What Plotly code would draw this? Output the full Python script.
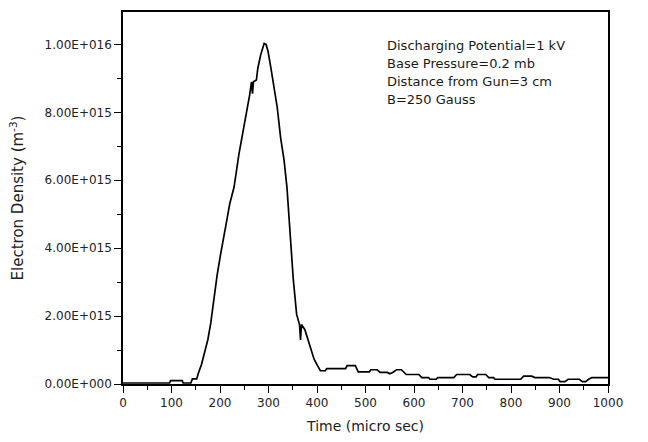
import plotly.graph_objects as go

# Time (micro sec)
time_us = [0, 20, 40, 60, 80, 96, 98, 122, 124, 140, 143, 152, 155, 162, 168, 175, 181, 188, 194,
           201, 207, 214, 220, 229, 239, 248, 255, 261, 265, 267, 269, 275, 278, 284, 291, 295,
           299, 305, 312, 318, 325, 332, 338, 345, 351, 358, 364, 366, 368, 375, 381, 388, 394,
           401, 407, 417, 420, 459, 462, 479, 485, 508, 511, 524, 530, 545, 550, 556, 564, 574,
           584, 610, 616, 630, 633, 646, 649, 682, 688, 715, 721, 728, 731, 748, 754, 764, 767,
           820, 826, 843, 849, 879, 888, 898, 901, 911, 918, 941, 947, 954, 960, 967, 1000]
# Electron density in units of 1e15 m^-3
density_e15 = [0.03, 0.03, 0.03, 0.03, 0.03, 0.03, 0.1, 0.1, 0.03, 0.03, 0.15, 0.15, 0.3, 0.58,
               0.92, 1.31, 1.8, 2.58, 3.2, 3.8, 4.33, 4.82, 5.3, 5.8, 6.77, 7.55, 8.03, 8.5, 8.9,
               8.55, 8.9, 8.95, 9.3, 9.7, 10.03, 10.0, 9.8, 9.3, 8.7, 8.15, 7.25, 6.6, 5.8, 4.2,
               3.1, 2.05, 1.75, 1.3, 1.75, 1.6, 1.3, 1.0, 0.73, 0.54, 0.39, 0.39, 0.45, 0.45,
               0.54, 0.54, 0.36, 0.36, 0.42, 0.42, 0.34, 0.34, 0.3, 0.34, 0.42, 0.42, 0.28, 0.28,
               0.19, 0.19, 0.14, 0.14, 0.19, 0.19, 0.28, 0.28, 0.21, 0.21, 0.28, 0.28, 0.19, 0.19,
               0.14, 0.14, 0.23, 0.23, 0.19, 0.19, 0.14, 0.14, 0.07, 0.07, 0.14, 0.14, 0.07, 0.07,
               0.14, 0.19, 0.19]
density = [v * 1e15 for v in density_e15]

y_tick_vals = [0, 2e15, 4e15, 6e15, 8e15, 1e16]
y_tick_text = ["0.00E+000", "2.00E+015", "4.00E+015", "6.00E+015", "8.00E+015", "1.00E+016"]
x_tick_vals = [0, 100, 200, 300, 400, 500, 600, 700, 800, 900, 1000]

info_lines = ["Discharging Potential=1 kV", "Base Pressure=0.2 mb",
              "Distance from Gun=3 cm", "B=250 Gauss"]

FONT = "DejaVu Sans"

fig = go.Figure()
fig.add_trace(go.Scatter(x=time_us, y=density, mode="lines",
                         line=dict(color="black", width=1.7), showlegend=False))

for i, line in enumerate(info_lines):
    fig.add_annotation(x=0.54, y=0.909 - i * 0.0485, xref="paper", yref="paper",
                       text=line, showarrow=False, xanchor="left", yanchor="middle",
                       font=dict(family=FONT, size=13, color="#1a1a1a"))

fig.update_layout(
    width=648, height=442,
    margin=dict(l=123, r=40, t=10, b=57),
    paper_bgcolor="white", plot_bgcolor="white",
    font=dict(family=FONT, color="#222"),
)
fig.update_xaxes(range=[0, 1000], tickvals=x_tick_vals, ticks="outside", ticklen=7,
                 tickwidth=1.3, tickcolor="black", showline=True, linecolor="black",
                 linewidth=1.5, mirror=True, showgrid=False, zeroline=False,
                 tickfont=dict(family=FONT, size=12, color="#222"),
                 minor=dict(dtick=50, ticks="outside", ticklen=4, tickcolor="black", tickwidth=1.3),
                 title=dict(text="Time (micro sec)", font=dict(family=FONT, size=14, color="#222"),
                            standoff=12))
fig.update_yaxes(range=[0, 1.0955e16], tickvals=y_tick_vals, ticktext=y_tick_text,
                 ticks="outside", ticklen=7, tickwidth=1.3, tickcolor="black",
                 showline=True, linecolor="black", linewidth=1.5, mirror=True,
                 showgrid=False, zeroline=False,
                 tickfont=dict(family=FONT, size=12, color="#222"),
                 minor=dict(dtick=1e15, ticks="outside", ticklen=4, tickcolor="black", tickwidth=1.3),
                 title=dict(text="Electron Density (m<sup>-3</sup>)",
                            font=dict(family=FONT, size=15, color="#222"), standoff=17))

fig.write_html("out.html")
